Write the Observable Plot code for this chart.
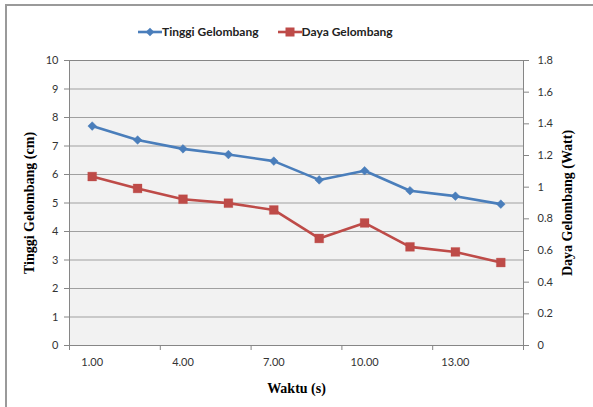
<!DOCTYPE html>
<html>
<head>
<meta charset="utf-8">
<script src="https://cdn.jsdelivr.net/npm/d3@7"></script>
<script src="https://cdn.jsdelivr.net/npm/@observablehq/plot@0.6"></script>
<style>
  body { margin: 0; background: #fff; }
  #wrap { position: relative; width: 593px; height: 407px; overflow: hidden; background: #fff; }
  #border { position: absolute; left: 5px; top: 4px; width: 620px; height: 440px; border: 2px solid #9a9a9a; box-sizing: border-box; }
  #legend { position: absolute; left: 138px; top: 24px; display: flex; align-items: center; font-family: Lato, sans-serif; font-weight: bold; font-size: 12px; color: #222; line-height: 16px; }
  #legend .item { display: flex; align-items: center; }
  #legend svg { display: block; }
  #chart { position: absolute; left: 0; top: 0; }
  #chart svg [aria-label$="axis label"] { font-family: "Liberation Serif", serif; font-weight: bold; font-size: 14px; fill: #000; }
</style>
</head>
<body>
<div id="wrap">
  <div id="border"></div>
  <div id="chart"></div>
  <div id="legend"></div>
</div>
<script>
// ---- data ----
const categories = ["1.00", "2.50", "4.00", "5.50", "7.00", "8.50", "10.00", "11.50", "13.00", "14.50"];
const tinggi = [7.70, 7.21, 6.90, 6.70, 6.47, 5.81, 6.13, 5.43, 5.24, 4.96];
const daya = [1.067, 0.992, 0.924, 0.899, 0.856, 0.676, 0.774, 0.623, 0.591, 0.524];
const leftTicks = [0, 1, 2, 3, 4, 5, 6, 7, 8, 9, 10];
const rightTicks = [0, 0.2, 0.4, 0.6, 0.8, 1, 1.2, 1.4, 1.6, 1.8];
const seriesNames = ["Tinggi Gelombang", "Daya Gelombang"];
const xTitle = "Waktu (s)";
const yLeftTitle = "Tinggi Gelombang (cm)";
const yRightTitle = "Daya Gelombang (Watt)";

const blue = "#4a7ebb";
const red = "#be4b48";
const leftMax = leftTicks[leftTicks.length - 1];
const rightMax = rightTicks[rightTicks.length - 1];
const k = leftMax / rightMax;

const rows = categories.map((c, i) => ({ pos: i + 0.5, cat: c, t: tinggi[i], d: daya[i] * k }));
const n = categories.length;
const boundaryTicks = d3.range(0, n + 1, 2);
const labelPositions = rows.filter((d, i) => i % 2 === 0).map(d => d.pos);

const axisStroke = "#868686";

const chart = Plot.plot({
  width: 593,
  height: 407,
  marginLeft: 69,
  marginRight: 70,
  marginTop: 60,
  marginBottom: 62,
  style: { background: "transparent", fontFamily: "Lato, sans-serif", fontSize: "11px", color: "#333" },
  x: { type: "linear", domain: [0, n], axis: null },
  y: { domain: [0, leftMax], axis: null },
  marks: [
    Plot.frame({ fill: "#f2f2f2", stroke: null }),
    Plot.gridY(leftTicks, { stroke: "#a0a0a0", strokeOpacity: 1, strokeWidth: 1 }),
    Plot.frame({ stroke: axisStroke, strokeWidth: 1 }),
    Plot.axisY(leftTicks, {
      anchor: "left", tickSize: 5, tickPadding: 6, stroke: axisStroke,
      label: yLeftTitle, labelAnchor: "center", labelOffset: 45, labelArrow: "none"
    }),
    Plot.axisY(rightTicks, {
      anchor: "right", y: v => v * k, tickFormat: v => String(v), tickSize: 5, tickPadding: 9, stroke: axisStroke,
      label: yRightTitle, labelAnchor: "center", labelOffset: 48, labelArrow: "none"
    }),
    Plot.axisX(boundaryTicks, { anchor: "bottom", tickSize: 5, tickFormat: () => "", stroke: axisStroke, label: null }),
    Plot.axisX(labelPositions, {
      anchor: "bottom", tickSize: 0, tickPadding: 13, tickFormat: v => categories[Math.floor(v)],
      label: xTitle, labelAnchor: "center", labelOffset: 47, labelArrow: "none"
    }),
    Plot.line(rows, { x: "pos", y: "t", stroke: blue, strokeWidth: 2.6 }),
    Plot.dot(rows, { x: "pos", y: "t", symbol: "diamond2", r: 3.9, fill: blue, stroke: blue, strokeWidth: 0.5 }),
    Plot.line(rows, { x: "pos", y: "d", stroke: red, strokeWidth: 2.6 }),
    Plot.dot(rows, { x: "pos", y: "d", symbol: "square", r: 5, fill: red, stroke: red, strokeWidth: 0.3 })
  ]
});
document.getElementById("chart").appendChild(chart);

// ---- legend ----
const legend = document.getElementById("legend");
function marker(color, shape) {
  const w = 24, h = 12;
  const s = d3.create("svg").attr("width", w).attr("height", h);
  s.append("line").attr("x1", 0).attr("x2", w).attr("y1", h / 2).attr("y2", h / 2).attr("stroke", color).attr("stroke-width", 2.6);
  if (shape === "diamond") {
    s.append("path").attr("d", `M${w/2},${h/2-4.3}L${w/2+4.3},${h/2}L${w/2},${h/2+4.3}L${w/2-4.3},${h/2}Z`).attr("fill", color);
  } else {
    s.append("rect").attr("x", w / 2 - 4.5).attr("y", h / 2 - 4.5).attr("width", 9).attr("height", 9).attr("fill", color);
  }
  return s.node();
}
[[seriesNames[0], blue, "diamond"], [seriesNames[1], red, "square"]].forEach(([name, color, shape], i) => {
  const item = document.createElement("div");
  item.className = "item";
  if (i > 0) item.style.marginLeft = "19px";
  item.appendChild(marker(color, shape));
  const span = document.createElement("span");
  span.textContent = name;
  item.appendChild(span);
  legend.appendChild(item);
});
</script>
</body>
</html>
